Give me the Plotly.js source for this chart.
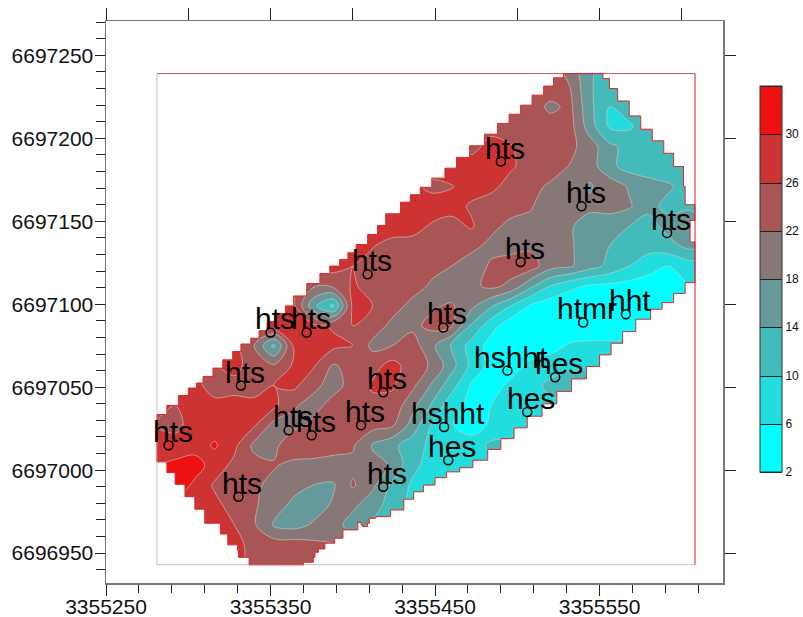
<!DOCTYPE html>
<html><head><meta charset="utf-8">
<script src="https://cdn.plot.ly/plotly-3.0.1.min.js"></script>
<style>html,body{margin:0;padding:0;background:#fff}#c{width:803px;height:617px}</style></head>
<body><div id="c"></div>
<script>
const _ = null;
// grid positions of the gridded survey values
const gridX = [3355280,3355292,3355304,3355316,3355328,3355340,3355352,3355364,3355376,3355388,3355400,3355412,3355424,3355436,3355448,3355460,3355472,3355484,3355496,3355508,3355520,3355532,3355544,3355556,3355568,3355580,3355592,3355604,3355608];
const gridY = [6696943,6696955,6696967,6696979,6696991,6697003,6697015,6697027,6697039,6697051,6697063,6697075,6697087,6697099,6697111,6697123,6697135,6697147,6697159,6697171,6697183,6697195,6697207,6697219,6697231,6697239];
const gridZ = [
[_,_,_,28,27,25,24,24,23,22,22,_,_,_,_,_,_,_,_,_,_,_,_,_,_,_,_,_,_],
[_,_,28,28,27,25,24,24,23,22,21,21,_,_,_,_,_,_,_,_,_,_,_,_,_,_,_,_,_],
[_,_,28,28,26,22.5,17.5,16.5,18.5,20,16,14,11,11,_,_,_,_,_,_,_,_,_,_,_,_,_,_,_],
[_,29,29,27,24.5,22.5,20,17,16,18.5,19,15.5,12.5,9,8,8,_,_,_,_,_,_,_,_,_,_,_,_,_],
[33,33,29,25.5,24,23,20.5,19.5,18,17.5,22.5,19,13,9.5,7,7,7,_,_,_,_,_,_,_,_,_,_,_,_],
[30,31,32,28,25,23.5,22.5,20.5,20,21,21,19.5,17.5,11,8.5,6.5,7,8,8,_,_,_,_,_,_,_,_,_,_],
[27,27.5,28,30.5,27,21,20.5,26,26,23,22.5,17.5,15,12,9,7.5,7.5,11,11,11,_,_,_,_,_,_,_,_,_],
[26,25,27.5,28,28,26.5,20.5,20.5,23,25.5,23.5,23.5,22.5,16.5,9.5,6.2,4.5,6.5,8,8,8,8,_,_,_,_,_,_,_],
[27,26,27,27,27,27,27,22.5,20.5,23.5,24.5,25,24.5,19.5,13.5,7.5,5,6,7.5,8,9,9,9,_,_,_,_,_,_],
[27,27,27,24.5,25,24.5,26,27,23,20.5,23.5,26.5,26.5,23,17.5,11.5,5.5,4,7,8.5,11,14,14,_,_,_,_,_,_],
[_,26,26,26,27,24.5,22.5,26.5,26.5,21.5,23.5,24.5,27.5,24,21.5,15.5,9,4.5,4,7,8,8.5,8.5,8,8,_,_,_,_],
[_,_,27,27,27,22,13,26.5,28,27,26,21,22,24,19,13.5,8.5,4.5,3.5,3.5,4.5,6.5,7,7,7,7,_,_,_],
[_,_,_,_,24,24,28,28,27,25.5,26,24,21,21,23,22.5,13.5,7.5,3.5,3,3,3,3,3,3,3,3,_,_],
[_,_,_,_,_,27,27,27,15,9,27,26,23.5,21,21.5,22.5,19,14.5,10,5.5,3.5,3,3,3,3,3,3,3,3],
[_,_,_,_,_,_,25,25,22.5,23,26.5,24.5,24.5,23.5,21.5,19.5,21,23,21,15,10,7,5.5,5,4.5,4,3.5,6,7],
[_,_,_,_,_,_,_,27,27.5,27.5,26,24.5,24.5,24.5,23,22,20,22.5,24,24,19.5,18.5,15.5,13,10,7.5,6,8,8],
[_,_,_,_,_,_,_,_,28,28,28,26.2,24.5,24.5,24,23.5,23,21,20.5,21.2,20,18.5,16,14,12,11.5,12.5,15,15],
[_,_,_,_,_,_,_,_,_,28,28,28,28,27.5,25.5,24.5,26.5,23,21,21,21.5,18.5,16,15.5,14,12.5,15.5,16,16],
[_,_,_,_,_,_,_,_,_,_,28,28,28,28,28,27.5,25.5,24,23.5,22.3,20,19.5,19,19.5,18.5,15,13,13.5,13],
[_,_,_,_,_,_,_,_,_,_,_,27,27,27,25,25.8,27.5,27,24.5,23,21.5,20.5,17.5,20.5,17.5,15.5,14.5,12.5,12],
[_,_,_,_,_,_,_,_,_,_,_,_,_,28,28,28,27.5,28,26.5,24.5,23.5,21.8,20,15,12.5,12,11.5,11,11],
[_,_,_,_,_,_,_,_,_,_,_,_,_,_,28,28,25,27,26.2,24.5,24.5,23,20,15,12.5,11.5,11,11,_],
[_,_,_,_,_,_,_,_,_,_,_,_,_,_,_,26,26,25,24.5,24.5,24,23.5,16,9.5,9.5,12,12,12,_],
[_,_,_,_,_,_,_,_,_,_,_,_,_,_,_,_,25,25,25,24.5,21,23,15,10,11.5,12,12,_,_],
[_,_,_,_,_,_,_,_,_,_,_,_,_,_,_,_,_,25,25,25,24.5,22,14.5,11.5,11,11,_,_,_],
[_,_,_,_,_,_,_,_,_,_,_,_,_,_,_,_,_,_,25,25,24,21,14.5,12,11,11,_,_,_]
];
const levels = {start:2, end:34, size:4};
const bandColors = ['#00ffff','#22dddd','#44bbbb','#669999','#887777','#aa5555','#cc3333','#ee1111'];
const colorTicks = [2,6,10,14,18,22,26,30];

// survey outline (blanking polygon) and frame
const outlineX = [3355281,3355287,3355294,3355300,3355305,3355309,3355315,3355321,3355327,3355332,3355338,3355343,3355348,3355353,3355359,3355364,3355372,3355380,3355386,3355392,3355397,3355402,3355409,3355415,3355420,3355429,3355435,3355441,3355448,3355456,3355463,3355471,3355480,3355488,3355495,3355502,3355509,3355516,3355522,3355528,3355552,3355556,3355561,3355568,3355575,3355582,3355589,3355595,3355601,3355602,3355608,3355608,3355605,3355605,3355608,3355608,3355602,3355595,3355588,3355581,3355572,3355564,3355557,3355550,3355542,3355533,3355524,3355515,3355506,3355498,3355490,3355482,3355473,3355465,3355457,3355450,3355443,3355437,3355431,3355423,3355414,3355410,3355409,3355406,3355405,3355403,3355394,3355389,3355383,3355379,3355377,3355376,3355370,3355337,3355337,3355330.5,3355330,3355324,3355324,3355319.5,3355310,3355304,3355298,3355292,3355287,3355281,3355281];
const outlineY = [6697031,6697036,6697042,6697048,6697051,6697054,6697059,6697064,6697069,6697074,6697078,6697081,6697087,6697092,6697097,6697101,6697109,6697116,6697121,6697125,6697129,6697133,6697139,6697145,6697150,6697159,6697164,6697168,6697173,6697179,6697185,6697192,6697199,6697206,6697212,6697217,6697223,6697229,6697234,6697239,6697239,6697233,6697227,6697218,6697209,6697202,6697195,6697187,6697179,6697163,6697157,6697153,6697148,6697139,6697136,6697116,6697110,6697103,6697099,6697095,6697087,6697080,6697073,6697066,6697059,6697051,6697044,6697036,6697029,6697022,6697016,6697009,6697003,6697000,6696998,6696993,6696989,6696985,6696980,6696972,6696972,6696970,6696966,6696966,6696968,6696969,6696959,6696959,6696953,6696952,6696949,6696946,6696943,6696943,6696946,6696949,6696954,6696956,6696960,6696963,6696973,6696980,6696988,6696995,6697002,6697008,6697031];
const frameLeftBottomX = [3355281,3355281,3355608];
const frameLeftBottomY = [6697239,6696943,6696943];
const frameTopX = [3355281,3355608];
const frameTopY = [6697239,6697239];
const frameRightX = [3355608,3355608];
const frameRightY = [6697239,6696943];
const outerX = [3355277,3355277,3355611,3355611,3355277];
const outerY = [6697031,6697242,6697242,6696940,6696940];

// boreholes
const siteLabels = ['hts','hts','hts','hts','hts','hts','hts','hts','hts','hts','hts','hts','hts','hts','hts','hts','htmr','hht','hshht','hes','hes','hshht','hes'];
const siteX = [3355288,3355332,3355350,3355372,3355409,3355455,3355418.5,3355405,3355361,3355375,3355330.5,3355418.5,3355490,3355539,3355591,3355502,3355540,3355566,3355494,3355523,3355506,3355455.5,3355458];
const siteY = [6697015,6697051,6697083,6697083,6697118,6697086,6697047,6697027,6697024,6697021,6696984,6696990,6697186,6697159,6697143,6697125.5,6697089,6697094,6697060,6697056,6697035,6697026,6697006];

const n = bandColors.length;
const scale = [];
bandColors.forEach((c,i)=>{scale.push([i/n,c]);scale.push([(i+1)/n,c]);});

// ring between the frame and the outline, closed along a zero-width slit
const maskX = outerX.concat([3355277], outlineX.slice().reverse());
const maskY = outerY.concat([6697031], outlineY.slice().reverse());

const traces = [
 {type:'contour',x:gridX,y:gridY,z:gridZ,zmin:2,zmax:34,autocontour:false,contours:{...levels,coloring:'fill',showlines:true},
  line:{color:'#222',width:1,smoothing:1},colorscale:scale,connectgaps:false,hoverinfo:'skip',
  colorbar:{thickness:22,thicknessmode:'pixels',len:386,lenmode:'pixels',x:1.0595,xanchor:'left',xpad:0,y:0.1975,yanchor:'bottom',ypad:0,
   tickvals:colorTicks,ticktext:colorTicks.map(String),ticks:'',tickfont:{family:'Liberation Sans, Arial, sans-serif',size:12,color:'#111'},outlinecolor:'#333',outlinewidth:1,ticklabelposition:'outside'}},
 {type:'contour',x:gridX,y:gridY,z:gridZ,zmin:2,zmax:34,autocontour:false,contours:{...levels,coloring:'fill',showlines:true},
  line:{color:'rgba(215,205,205,0.75)',width:0.8,smoothing:1},colorscale:scale,connectgaps:false,showscale:false,hoverinfo:'skip'},
 {type:'scatter',mode:'lines',x:maskX,y:maskY,fill:'toself',fillcolor:'#fff',line:{width:0,shape:'vhv'},hoverinfo:'skip',showlegend:false},
 {type:'scatter',mode:'lines',x:frameLeftBottomX,y:frameLeftBottomY,line:{color:'#c8bfbf',width:1},hoverinfo:'skip'},
 {type:'scatter',mode:'lines',x:frameTopX,y:frameTopY,line:{color:'#c85555',width:1},hoverinfo:'skip'},
 {type:'scatter',mode:'lines',x:frameRightX,y:frameRightY,line:{color:'#d92020',width:1},hoverinfo:'skip'},
 {type:'scatter',mode:'lines',x:outlineX,y:outlineY,line:{color:'#e02525',width:1,shape:'vhv'},hoverinfo:'skip'},
 {type:'scatter',mode:'markers',x:siteX,y:siteY,marker:{symbol:'circle-open',size:9,color:'#000',line:{color:'#000',width:1.5}},hoverinfo:'skip'},
 {type:'scatter',mode:'markers',x:[3355250],y:[6696950],xaxis:'x2',yaxis:'y2',marker:{opacity:0,size:1},hoverinfo:'skip'}
];
const annotations = siteLabels.map((t,i)=>({x:siteX[i],y:siteY[i],text:t,showarrow:false,xanchor:'center',yanchor:'bottom',xshift:4,yshift:-4,borderpad:0,
  font:{family:'Liberation Sans, Arial, sans-serif',size:30,color:'#000'}}));
const xr=[3355250,3355625], yr=[6696932,6697270.7];
const axisCommon = {linecolor:'#777',linewidth:1.5,showgrid:false,zeroline:false,tickcolor:'#222',tickwidth:1,fixedrange:true,showline:true};
const layout = {
 width:803,height:617,margin:{l:105.5,r:80,t:21,b:34,pad:0,autoexpand:false},paper_bgcolor:'#fff',plot_bgcolor:'#fff',showlegend:false,annotations,
 font:{family:'Liberation Sans, Arial, sans-serif',color:'#111'},
 xaxis:{...axisCommon,range:xr,tick0:3355250,dtick:100,ticks:'outside',ticklen:11.5,ticklabelstandoff:-7,tickformat:'d',tickfont:{size:21,color:'#111'},
   minor:{tick0:3355250,dtick:20,ticks:'outside',ticklen:8,tickcolor:'#222',tickwidth:1,showgrid:false}},
 yaxis:{...axisCommon,range:yr,tick0:6696950,dtick:50,ticks:'outside',ticklen:10,ticklabelstandoff:-3,tickformat:'d',tickfont:{size:21,color:'#111'},
   minor:{tick0:6696950,dtick:10,ticks:'outside',ticklen:9,tickcolor:'#222',tickwidth:1,showgrid:false}},
 xaxis2:{...axisCommon,range:xr,overlaying:'x',side:'top',anchor:'y2',tick0:3355250,dtick:50,ticks:'outside',ticklen:11.5,showticklabels:false},
 yaxis2:{...axisCommon,range:yr,overlaying:'y',side:'right',anchor:'x2',tick0:6696950,dtick:50,ticks:'outside',ticklen:11.5,showticklabels:false}
};
Plotly.newPlot('c',traces,layout,{displayModeBar:false,staticPlot:true});
</script></body></html>
